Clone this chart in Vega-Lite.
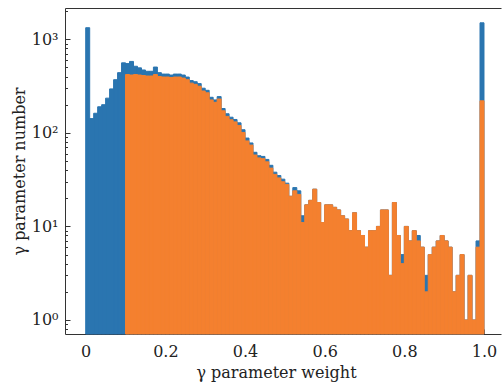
{
  "$schema": "https://vega.github.io/schema/vega-lite/v6.json",
  "autosize": {"type": "none"},
  "padding": {"left": 65, "top": 8, "right": 1, "bottom": 52},
  "width": 436,
  "height": 326,
  "background": "white",
  "config": {
    "view": {"stroke": null},
    "font": "DejaVu Serif",
    "axis": {"grid": false, "domain": true, "domainColor": "#333333", "domainWidth": 1, "labelFont": "DejaVu Serif", "titleFont": "DejaVu Serif", "labelFontSize": 16, "titleFontSize": 16, "labelColor": "#222222", "titleColor": "#222222", "tickColor": "#333333", "titleFontWeight": "normal"}
  },
  "data": {"values": [
    {"lo": 0.00, "hi": 0.01, "all": 1330, "pruned": null},
    {"lo": 0.01, "hi": 0.02, "all": 142, "pruned": null},
    {"lo": 0.02, "hi": 0.03, "all": 162, "pruned": null},
    {"lo": 0.03, "hi": 0.04, "all": 190, "pruned": null},
    {"lo": 0.04, "hi": 0.05, "all": 200, "pruned": null},
    {"lo": 0.05, "hi": 0.06, "all": 235, "pruned": null},
    {"lo": 0.06, "hi": 0.07, "all": 295, "pruned": null},
    {"lo": 0.07, "hi": 0.08, "all": 370, "pruned": null},
    {"lo": 0.08, "hi": 0.09, "all": 440, "pruned": null},
    {"lo": 0.09, "hi": 0.10, "all": 560, "pruned": null},
    {"lo": 0.10, "hi": 0.11, "all": 550, "pruned": 420},
    {"lo": 0.11, "hi": 0.12, "all": 580, "pruned": 415},
    {"lo": 0.12, "hi": 0.13, "all": 515, "pruned": 420},
    {"lo": 0.13, "hi": 0.14, "all": 495, "pruned": 415},
    {"lo": 0.14, "hi": 0.15, "all": 470, "pruned": 410},
    {"lo": 0.15, "hi": 0.16, "all": 455, "pruned": 405},
    {"lo": 0.16, "hi": 0.17, "all": 455, "pruned": 405},
    {"lo": 0.17, "hi": 0.18, "all": 505, "pruned": 420},
    {"lo": 0.18, "hi": 0.19, "all": 440, "pruned": 400},
    {"lo": 0.19, "hi": 0.20, "all": 425, "pruned": 395},
    {"lo": 0.20, "hi": 0.21, "all": 425, "pruned": 395},
    {"lo": 0.21, "hi": 0.22, "all": 415, "pruned": 390},
    {"lo": 0.22, "hi": 0.23, "all": 425, "pruned": 395},
    {"lo": 0.23, "hi": 0.24, "all": 425, "pruned": 395},
    {"lo": 0.24, "hi": 0.25, "all": 415, "pruned": 385},
    {"lo": 0.25, "hi": 0.26, "all": 395, "pruned": 370},
    {"lo": 0.26, "hi": 0.27, "all": 362, "pruned": 340},
    {"lo": 0.27, "hi": 0.28, "all": 352, "pruned": 330},
    {"lo": 0.28, "hi": 0.29, "all": 336, "pruned": 315},
    {"lo": 0.29, "hi": 0.30, "all": 300, "pruned": 280},
    {"lo": 0.30, "hi": 0.31, "all": 285, "pruned": 268},
    {"lo": 0.31, "hi": 0.32, "all": 240, "pruned": 225},
    {"lo": 0.32, "hi": 0.33, "all": 225, "pruned": 212},
    {"lo": 0.33, "hi": 0.34, "all": 244, "pruned": 230},
    {"lo": 0.34, "hi": 0.35, "all": 182, "pruned": 172},
    {"lo": 0.35, "hi": 0.36, "all": 160, "pruned": 150},
    {"lo": 0.36, "hi": 0.37, "all": 147, "pruned": 138},
    {"lo": 0.37, "hi": 0.38, "all": 139, "pruned": 131},
    {"lo": 0.38, "hi": 0.39, "all": 128, "pruned": 120},
    {"lo": 0.39, "hi": 0.40, "all": 108, "pruned": 101},
    {"lo": 0.40, "hi": 0.41, "all": 88, "pruned": 82},
    {"lo": 0.41, "hi": 0.42, "all": 78, "pruned": 74},
    {"lo": 0.42, "hi": 0.43, "all": 62, "pruned": 58},
    {"lo": 0.43, "hi": 0.44, "all": 57, "pruned": 54},
    {"lo": 0.44, "hi": 0.45, "all": 56, "pruned": 53},
    {"lo": 0.45, "hi": 0.46, "all": 52, "pruned": 49},
    {"lo": 0.46, "hi": 0.47, "all": 45, "pruned": 42},
    {"lo": 0.47, "hi": 0.48, "all": 38, "pruned": 36},
    {"lo": 0.48, "hi": 0.49, "all": 35, "pruned": 33},
    {"lo": 0.49, "hi": 0.50, "all": 32, "pruned": 30},
    {"lo": 0.50, "hi": 0.51, "all": 29, "pruned": 28},
    {"lo": 0.51, "hi": 0.52, "all": 21, "pruned": 21},
    {"lo": 0.52, "hi": 0.53, "all": 26, "pruned": 24},
    {"lo": 0.53, "hi": 0.54, "all": 24, "pruned": 22},
    {"lo": 0.54, "hi": 0.55, "all": 13, "pruned": 11},
    {"lo": 0.55, "hi": 0.56, "all": 17, "pruned": 17},
    {"lo": 0.56, "hi": 0.57, "all": 19, "pruned": 19},
    {"lo": 0.57, "hi": 0.58, "all": 25, "pruned": 25},
    {"lo": 0.58, "hi": 0.59, "all": 18, "pruned": 18},
    {"lo": 0.59, "hi": 0.60, "all": 11, "pruned": 11},
    {"lo": 0.60, "hi": 0.61, "all": 17, "pruned": 17},
    {"lo": 0.61, "hi": 0.62, "all": 17, "pruned": 17},
    {"lo": 0.62, "hi": 0.63, "all": 16, "pruned": 16},
    {"lo": 0.63, "hi": 0.64, "all": 15, "pruned": 15},
    {"lo": 0.64, "hi": 0.65, "all": 13, "pruned": 13},
    {"lo": 0.65, "hi": 0.66, "all": 12, "pruned": 12},
    {"lo": 0.66, "hi": 0.67, "all": 9, "pruned": 9},
    {"lo": 0.67, "hi": 0.68, "all": 14, "pruned": 14},
    {"lo": 0.68, "hi": 0.69, "all": 9, "pruned": 9},
    {"lo": 0.69, "hi": 0.70, "all": 8, "pruned": 8},
    {"lo": 0.70, "hi": 0.71, "all": 6, "pruned": 6},
    {"lo": 0.71, "hi": 0.72, "all": 9, "pruned": 9},
    {"lo": 0.72, "hi": 0.73, "all": 9, "pruned": 9},
    {"lo": 0.73, "hi": 0.74, "all": 10, "pruned": 10},
    {"lo": 0.74, "hi": 0.75, "all": 15, "pruned": 15},
    {"lo": 0.75, "hi": 0.76, "all": 15, "pruned": 15},
    {"lo": 0.76, "hi": 0.77, "all": 3, "pruned": 3},
    {"lo": 0.77, "hi": 0.78, "all": 18, "pruned": 18},
    {"lo": 0.78, "hi": 0.79, "all": 8, "pruned": 8},
    {"lo": 0.79, "hi": 0.80, "all": 5, "pruned": 4},
    {"lo": 0.80, "hi": 0.81, "all": 10, "pruned": 10},
    {"lo": 0.81, "hi": 0.82, "all": 7, "pruned": 7},
    {"lo": 0.82, "hi": 0.83, "all": 9, "pruned": 9},
    {"lo": 0.83, "hi": 0.84, "all": 8, "pruned": 7},
    {"lo": 0.84, "hi": 0.85, "all": 6, "pruned": 6},
    {"lo": 0.85, "hi": 0.86, "all": 3, "pruned": 2},
    {"lo": 0.86, "hi": 0.87, "all": 5, "pruned": 5},
    {"lo": 0.87, "hi": 0.88, "all": 6, "pruned": 6},
    {"lo": 0.88, "hi": 0.89, "all": 7, "pruned": 7},
    {"lo": 0.89, "hi": 0.90, "all": 8, "pruned": 8},
    {"lo": 0.90, "hi": 0.91, "all": 7, "pruned": 7},
    {"lo": 0.91, "hi": 0.92, "all": 6, "pruned": 6},
    {"lo": 0.92, "hi": 0.93, "all": 2, "pruned": 2},
    {"lo": 0.93, "hi": 0.94, "all": 3, "pruned": 3},
    {"lo": 0.94, "hi": 0.95, "all": 5, "pruned": 5},
    {"lo": 0.95, "hi": 0.96, "all": 1, "pruned": 1},
    {"lo": 0.96, "hi": 0.97, "all": 3, "pruned": 3},
    {"lo": 0.97, "hi": 0.98, "all": 1, "pruned": 1},
    {"lo": 0.98, "hi": 0.99, "all": 7, "pruned": 6},
    {"lo": 0.99, "hi": 1.00, "all": 1500, "pruned": 220}
  ]},
  "layer": [
    {
      "mark": {"type": "bar", "color": "#2a75b0", "stroke": "#2a75b0", "strokeWidth": 1},
      "encoding": {
        "x": {"field": "lo", "type": "quantitative", "scale": {"domain": [-0.052, 1.0427], "nice": false, "zero": false},
          "axis": {"title": "γ parameter weight", "orient": "bottom", "values": [0, 0.2, 0.4, 0.6, 0.8, 1.0], "labelExpr": "datum.value == 0 ? '0' : format(datum.value, '.1f')", "tickSize": -5, "labelPadding": 14, "titleX": 211, "titleY": 30, "titleBaseline": "top"}},
        "x2": {"field": "hi"},
        "y": {"field": "all", "type": "quantitative", "scale": {"type": "log", "domain": [0.7085, 2160], "nice": false},
          "axis": {"title": "γ parameter number", "orient": "left", "values": [1, 10, 100, 1000], "labelExpr": "'10' + ['⁰','¹','²','³'][round(log(datum.value)/LN10)]", "tickSize": -5, "labelPadding": 12, "titleX": -38, "titleBaseline": "bottom"}},
        "y2": {"datum": 0.7085}
      }
    },
    {
      "mark": {"type": "bar", "color": "#f4802f", "stroke": "#f4802f", "strokeWidth": 1},
      "encoding": {
        "x": {"field": "lo", "type": "quantitative",
          "axis": {"title": null, "orient": "top", "labels": false, "ticks": false, "domain": true}},
        "x2": {"field": "hi"},
        "y": {"field": "pruned", "type": "quantitative",
          "axis": {"title": null, "orient": "left", "labels": false, "domain": false, "values": [0.8, 0.9, 2, 3, 4, 5, 6, 7, 8, 9, 20, 30, 40, 50, 60, 70, 80, 90, 200, 300, 400, 500, 600, 700, 800, 900, 2000], "tickSize": -2.5}},
        "y2": {"datum": 0.7085}
      }
    }
  ],
  "resolve": {"axis": {"x": "independent", "y": "independent"}}
}
